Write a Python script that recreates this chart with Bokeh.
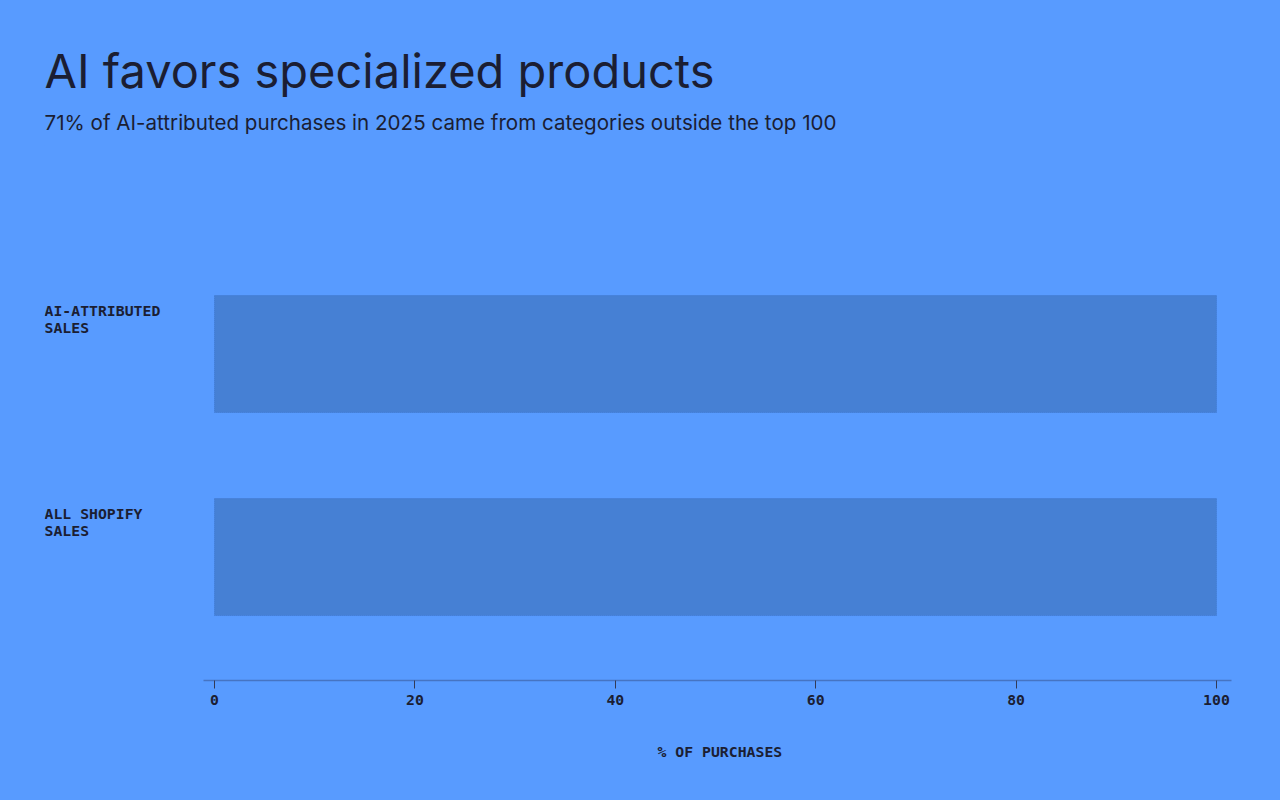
from bokeh.plotting import figure
from bokeh.models import Range1d, FixedTicker, Title, ColumnDataSource
from bokeh.core.properties import value
from bokeh.embed import file_html
from bokeh.resources import INLINE

# ---- data ----
categories = ["AI-ATTRIBUTED\nSALES", "ALL SHOPIFY\nSALES"]
share_values = [100, 100]
x_ticks = [0, 20, 40, 60, 80, 100]
title_text = "AI favors specialized products"
subtitle_text = "71% of AI-attributed purchases in 2025 came from categories outside the top 100"
x_axis_label = "% OF PURCHASES"

# ---- styling ----
BG = "#589BFF"
BAR = "#4680D4"
INK = "#1B1E33"
MONO = "DejaVu Sans Mono"
SANS = "Inter"

ypos = list(range(len(categories)))[::-1]
bar_h = 0.576
x_start = -16.97

src = ColumnDataSource(dict(y=ypos, right=share_values, label=categories,
                            ly=[v + bar_h / 2 for v in ypos],
                            lx=[x_start] * len(categories)))

p = figure(width=1280, height=800, output_backend="svg", toolbar_location=None,
           x_range=Range1d(x_start, 101.5), y_range=Range1d(-0.608, 2.027),
           y_axis_location=None, min_border_left=44, min_border_right=49,
           min_border_top=145, min_border_bottom=120,
           outline_line_color=None)

p.background_fill_color = None
p.border_fill_color = BG
p.outline_line_color = None
p.grid.visible = False

p.title.text = title_text
p.title.text_font = SANS
p.title.text_font_size = "47px"
p.title.text_font_style = "normal"
p.title.text_color = INK
try:
    p.title.standoff = -4
except Exception:
    p.title.standoff = 0
p.add_layout(Title(text=subtitle_text, text_font=SANS, text_font_size="20.6px",
                   text_font_style="normal", text_color=INK, standoff=22), "above")

p.hbar(y="y", left=0, right="right", height=bar_h, source=src,
       fill_color=BAR, line_color="#3F77CC", line_dash="1 1", line_width=1)

p.text(x="lx", y="ly", text="label", source=src, text_font=value(MONO),
       text_font_size="14.8px", text_font_style="bold", text_color=INK,
       text_baseline="top", text_align="left", y_offset=6, text_line_height=1.0)

ax = p.xaxis[0]
ax.ticker = FixedTicker(ticks=x_ticks)
ax.bounds = (-1.1, 101.5)
ax.axis_line_color = "#4674C2"
ax.axis_line_width = 1.5
ax.major_tick_line_color = "#333A55"
ax.major_tick_in = 0
ax.major_tick_out = 8
ax.minor_tick_line_color = None
ax.major_label_text_font = MONO
ax.major_label_text_font_size = "14.8px"
ax.major_label_text_font_style = "bold"
ax.major_label_text_color = INK
ax.major_label_standoff = 6

# axis label, centred under the drawn axis line rather than the whole frame
p.add_layout(Title(text=x_axis_label, text_font=MONO, text_font_size="14.8px",
                   text_font_style="bold", text_color=INK, align="left",
                   offset=613, standoff=66), "below")

html = file_html(p, INLINE)
html = html.replace("</head>", "<style>html, body { background: %s; }</style>\n</head>" % BG, 1)
open("out.html", "w").write(html)
